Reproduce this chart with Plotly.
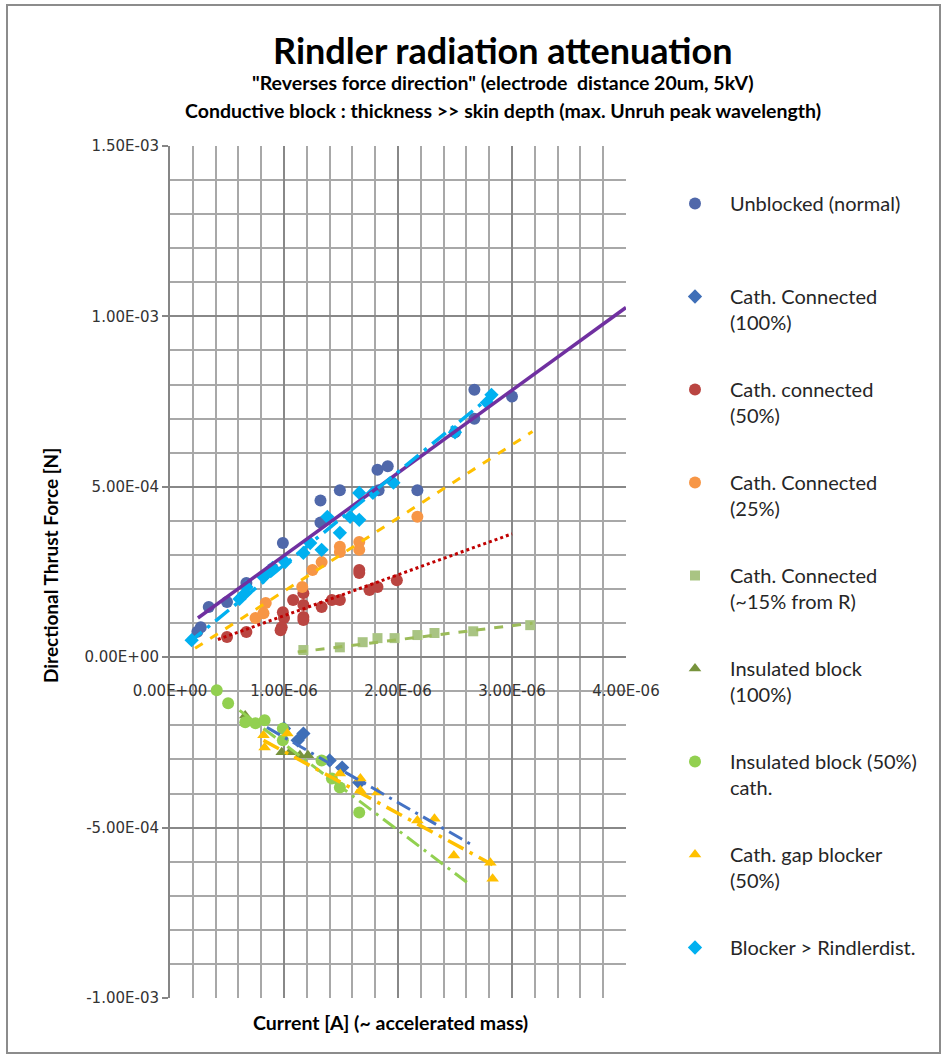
import plotly.graph_objects as go
import numpy as np

XS = 1e-6   # x unit (A)
YS = 1e-4   # y unit (N)

# ---------------- data (x in 1e-6 A, y in 1e-4 N) ----------------
unb_x = [0.24, 0.27, 0.34, 0.50, 0.67, 0.90, 0.99, 1.32, 1.32, 1.49, 1.82, 1.83, 1.91, 2.17, 2.50, 2.67, 2.67, 3.00]
unb_y = [0.75, 0.88, 1.47, 1.62, 2.18, 2.60, 3.35, 3.95, 4.60, 4.90, 5.50, 4.90, 5.60, 4.90, 6.60, 7.00, 7.85, 7.65]

c100_x = [1.00, 1.12, 1.17, 1.40, 1.51, 1.66]
c100_y = [-2.09, -2.44, -2.24, -3.03, -3.24, -3.68]

c50_x = [0.50, 0.67, 0.99, 1.00, 0.98, 0.97, 1.08, 1.17, 1.17, 1.17, 1.17, 1.33, 1.42, 1.49, 1.66, 1.66, 1.75, 1.82, 1.99]
c50_y = [0.59, 0.74, 1.32, 1.15, 0.88, 0.79, 1.68, 1.88, 1.53, 1.18, 1.09, 1.47, 1.68, 1.68, 2.56, 2.47, 1.97, 2.06, 2.26]

c25_x = [0.75, 0.82, 0.84, 1.16, 1.25, 1.33, 1.49, 1.49, 1.66, 1.66, 2.17]
c25_y = [1.15, 1.29, 1.59, 2.06, 2.56, 2.79, 3.24, 3.09, 3.38, 3.15, 4.12]

c15_x = [1.17, 1.49, 1.69, 1.82, 1.97, 2.17, 2.32, 2.66, 3.16]
c15_y = [0.21, 0.29, 0.44, 0.56, 0.56, 0.65, 0.71, 0.76, 0.94]

ins100_x = [0.66, 0.98, 1.05, 1.14, 1.21]
ins100_y = [-1.71, -2.79, -2.79, -2.88, -2.88]

ins50_x = [0.41, 0.51, 0.66, 0.75, 0.83, 0.99, 0.99, 1.33, 1.42, 1.49, 1.66]
ins50_y = [-0.97, -1.35, -1.91, -1.94, -1.85, -2.09, -2.44, -3.03, -3.56, -3.82, -4.56]

gap_x = [0.82, 0.83, 1.03, 1.49, 1.67, 1.67, 1.82, 2.17, 2.32, 2.49, 2.81, 2.83]
gap_y = [-2.29, -2.65, -2.24, -3.41, -3.56, -3.91, -3.97, -4.79, -4.74, -5.82, -6.03, -6.50]

rin_x = [0.19, 0.61, 0.66, 0.67, 0.82, 0.85, 0.90, 1.01, 1.17, 1.23, 1.33, 1.38, 1.49, 1.58, 1.66, 1.66, 1.78, 1.96, 2.50, 2.78, 2.82]
rin_y = [0.50, 1.71, 1.88, 2.06, 2.35, 2.47, 2.62, 2.79, 3.06, 3.35, 3.15, 4.12, 3.65, 4.12, 4.03, 4.82, 4.82, 5.12, 6.60, 7.47, 7.70]

# trendlines: [x_start, x_end], [y_start, y_end]
tr_unb_x, tr_unb_y = [0.245, 4.00], [1.15, 10.26]
tr_rin_x, tr_rin_y = [0.16, 2.85], [0.41, 7.76]
tr_c25_x, tr_c25_y = [0.22, 3.18], [0.26, 6.62]
tr_c50_x, tr_c50_y = [0.42, 3.00], [0.52, 3.62]
tr_c15_x, tr_c15_y = [1.12, 3.18], [0.15, 1.00]
tr_c100_x, tr_c100_y = [0.85, 2.66], [-2.06, -5.53]
tr_ins50_x, tr_ins50_y = [0.61, 2.61], [-1.56, -6.62]
tr_gap_x, tr_gap_y = [0.82, 2.83], [-2.44, -6.09]

x_tick_vals = [0, 1, 2, 3, 4]
x_tick_labels = ["0.00E+00", "1.00E-06", "2.00E-06", "3.00E-06", "4.00E-06"]
y_tick_vals = [-10, -5, 0, 5, 10, 15]
y_tick_labels = ["-1.00E-03", "-5.00E-04", "0.00E+00", "5.00E-04", "1.00E-03", "1.50E-03"]

# ---------------- figure ----------------
fig = go.Figure()

def sx(v):
    return np.array(v) * XS

def sy(v):
    return np.array(v) * YS

series = [
    ("Unblocked (normal)<br> ", unb_x, unb_y, "circle", "#5068AA", 12),
    ("Cath. Connected<br>(100%)", c100_x, c100_y, "diamond", "#3F6FB8", 11),
    ("Cath. connected<br>(50%)", c50_x, c50_y, "circle", "#BA4541", 12),
    ("Cath. Connected<br>(25%)", c25_x, c25_y, "circle", "#F79646", 12),
    ("Cath. Connected<br>(~15% from R)", c15_x, c15_y, "square", "#A9C483", 10),
    ("Insulated block<br>(100%)", ins100_x, ins100_y, "triangle-up", "#77933C", 11),
    ("Insulated block (50%)<br>cath.", ins50_x, ins50_y, "circle", "#92D050", 12),
    ("Cath. gap blocker<br>(50%)", gap_x, gap_y, "triangle-up", "#FFC000", 11),
    ("Blocker > Rindlerdist.<br> ", rin_x, rin_y, "diamond", "#00B0F0", 11),
]

trends = [
    (tr_unb_x, tr_unb_y, "#7030A0", "solid", 3.5),
    (tr_rin_x, tr_rin_y, "#00B0F0", "longdashdot", 3.5),
    (tr_c25_x, tr_c25_y, "#FFC000", "dash", 3),
    (tr_c50_x, tr_c50_y, "#C00000", "dot", 3),
    (tr_c15_x, tr_c15_y, "#9BBB59", "dash", 3),
    (tr_c100_x, tr_c100_y, "#4472C4", "longdashdot", 3),
    (tr_ins50_x, tr_ins50_y, "#92D050", "longdashdot", 3),
    (tr_gap_x, tr_gap_y, "#FFC000", "longdashdot", 3.5),
]

for i, (name, xv, yv, sym, col, sz) in enumerate(series):
    fig.add_trace(go.Scatter(
        x=sx(xv), y=sy(yv), mode="markers", name=name,
        legendgroup="g%d" % i,
        marker=dict(symbol=sym, color=col, size=sz, line=dict(width=0)),
    ))

for (xv, yv, col, dash, w) in trends:
    fig.add_trace(go.Scatter(
        x=sx(xv), y=sy(yv), mode="lines", showlegend=False, hoverinfo="skip",
        line=dict(color=col, dash=dash, width=w),
    ))

# plot area in pixels: x 170..626, y 146..998
L, R, T, B = 170, 626, 146, 998
W, H = 948, 1057
PW, PH = R - L, B - T

def px(xp):
    return (xp - L) / PW

def py(yp):
    return (B - yp) / PH

title_font = "Lato"

fig.update_layout(
    width=W, height=H,
    margin=dict(l=L, r=W - R, t=T, b=H - B, autoexpand=False),
    paper_bgcolor="white", plot_bgcolor="white",
    showlegend=True,
    legend=dict(
        x=px(660), y=py(184), xanchor="left", yanchor="top",
        font=dict(family="Lato", size=20, color="#262626"),
        tracegroupgap=38, itemwidth=60, valign="top",
        bgcolor="rgba(0,0,0,0)", traceorder="grouped",
    ),
    xaxis=dict(
        range=[0, 4 * XS], anchor="free", position=0.4,
        tickmode="array", tickvals=sx(x_tick_vals), ticktext=x_tick_labels,
        ticks="", ticklabelstandoff=20,
        tickfont=dict(family="DejaVu Sans", size=15, color="#333333"),
        showgrid=True, gridcolor="#888888", gridwidth=2,
        minor=dict(tick0=0, dtick=0.2 * XS, showgrid=True, gridcolor="#A8A8A8", gridwidth=2),
        showline=True, linecolor="#868686", linewidth=2,
        zeroline=False,
    ),
    yaxis=dict(
        range=[-10 * YS, 15 * YS],
        tickmode="array", tickvals=sy(y_tick_vals), ticktext=y_tick_labels,
        ticks="outside", ticklen=6, tickcolor="#868686", tickwidth=2,
        tickfont=dict(family="DejaVu Sans", size=15, color="#333333"),
        showgrid=True, gridcolor="#888888", gridwidth=2,
        minor=dict(tick0=0, dtick=1 * YS, showgrid=True, gridcolor="#A8A8A8", gridwidth=2),
        showline=True, linecolor="#868686", linewidth=2,
        zeroline=False,
    ),
    annotations=[
        dict(text="<b>Rindler radiation attenuation</b>", xref="paper", yref="paper",
             x=px(503), y=py(50), xanchor="center", yanchor="middle", showarrow=False,
             font=dict(family=title_font, size=36, color="black")),
        dict(text="<b>\"Reverses force direction\" (electrode  distance 20um, 5kV)</b>",
             xref="paper", yref="paper", x=px(503), y=py(83), xanchor="center", yanchor="middle",
             showarrow=False, font=dict(family=title_font, size=19.5, color="black")),
        dict(text="<b>Conductive block : thickness >> skin depth (max. Unruh peak wavelength)</b>",
             xref="paper", yref="paper", x=px(503), y=py(110), xanchor="center", yanchor="middle",
             showarrow=False, font=dict(family=title_font, size=19.5, color="black")),
        dict(text="<b>Current [A] (~ accelerated mass)</b>", xref="paper", yref="paper",
             x=px(390), y=py(1023), xanchor="center", yanchor="middle", showarrow=False,
             font=dict(family=title_font, size=19.5, color="black")),
        dict(text="<b>Directional Thrust Force [N]</b>", xref="paper", yref="paper",
             x=px(50), y=py(566), xanchor="center", yanchor="middle", showarrow=False,
             textangle=-90, font=dict(family=title_font, size=19, color="black")),
    ],
    shapes=[
        dict(type="rect", xref="paper", yref="paper",
             x0=px(7), x1=px(940), y0=py(1053), y1=py(5),
             line=dict(color="#8C8C8C", width=2), fillcolor="rgba(0,0,0,0)", layer="below"),
    ],
)

fig.write_html("out.html")
